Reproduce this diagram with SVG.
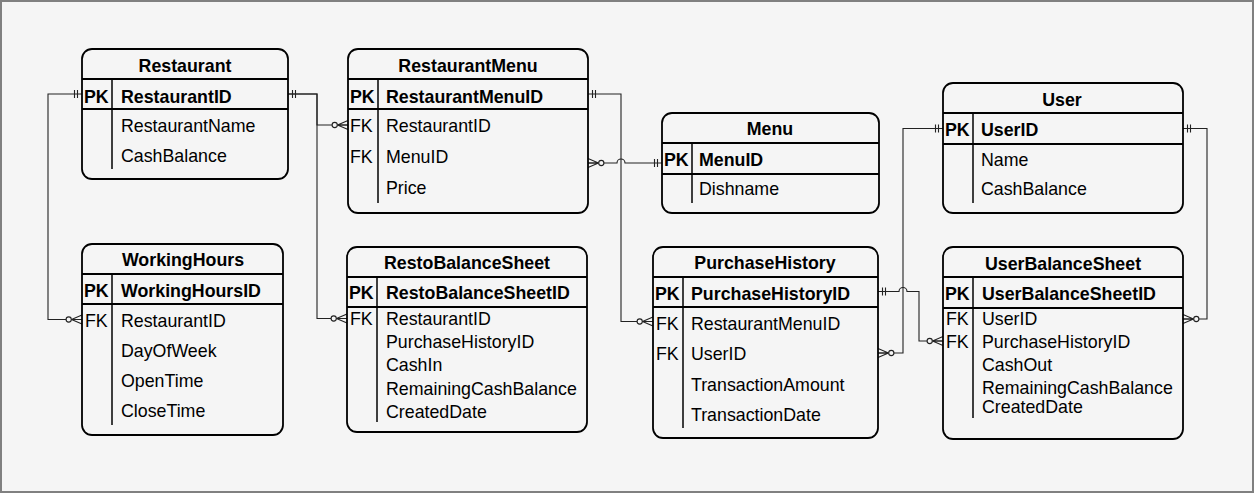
<svg xmlns="http://www.w3.org/2000/svg" width="1255" height="494" viewBox="0 0 1255 494">
<style>
.box{fill:#f5f5f5;stroke:#000;stroke-width:1.8}
.sep{stroke:#000;stroke-width:1.8;fill:none}
.div{stroke:#000;stroke-width:1.5;fill:none}
.t{font-family:"Liberation Sans",Arial,sans-serif;font-size:17.8px;fill:#000}
.b{font-weight:bold}
.c{text-anchor:middle}
.conn{fill:none;stroke:#222;stroke-width:1.1}
.mk{fill:none;stroke:#222;stroke-width:1.1}
</style>
<defs>
<g id="one" class="mk"><path d="M-4.5,-4V4M-7.5,-4V4"/></g>
<g id="zm" class="mk"><path d="M-10.5,0L0,-4.5M-10.5,0L0,4.5M-10.5,0H0"/><circle cx="-13.3" cy="0" r="2.6" fill="#f5f5f5"/></g>
</defs>
<rect x="1" y="1" width="1252" height="491" fill="#f5f5f5" stroke="#808080" stroke-width="2"/>

<g id="connectors">
<path class="conn" d="M82,94H48V319.5H82"/>
<path class="conn" d="M288,94H317V125H348"/>
<path class="conn" d="M288,94H317V318.5H347"/>
<path class="conn" d="M588,94H621V321.5H653"/>
<path class="conn" d="M588,163H617A4,4 0 0 1 625,163H662"/>
<path class="conn" d="M943,128.5H903V353H878"/>
<path class="conn" d="M1183,128.5H1207V319H1183"/>
<path class="conn" d="M878,291.5H899A4,4 0 0 1 907,291.5H919V341H943"/>
<use href="#one" transform="translate(82,94)"/>
<use href="#zm" transform="translate(82,319.5)"/>
<use href="#one" transform="translate(288,94) scale(-1,1)"/>
<use href="#zm" transform="translate(348,125)"/>
<use href="#zm" transform="translate(347,318.5)"/>
<use href="#one" transform="translate(588,94) scale(-1,1)"/>
<use href="#zm" transform="translate(653,321.5)"/>
<use href="#zm" transform="translate(588,163) scale(-1,1)"/>
<use href="#one" transform="translate(662,163)"/>
<use href="#one" transform="translate(943,128.5)"/>
<use href="#zm" transform="translate(878,353) scale(-1,1)"/>
<use href="#one" transform="translate(1183,128.5) scale(-1,1)"/>
<use href="#zm" transform="translate(1183,319) scale(-1,1)"/>
<use href="#one" transform="translate(878,291.5) scale(-1,1)"/>
<use href="#zm" transform="translate(943,341)"/>
</g>

<g id="Restaurant">
<rect class="box" x="82" y="49" width="206" height="130" rx="10"/>
<path class="sep" d="M82,79H288M82,109H288"/>
<path class="div" d="M112,79V169"/>
<text class="t b c" x="185" y="72">Restaurant</text>
<text class="t b" x="84" y="103">PK</text>
<text class="t b" x="121" y="103">RestaurantID</text>
<text class="t" x="121" y="132">RestaurantName</text>
<text class="t" x="121" y="162">CashBalance</text>
</g>

<g id="RestaurantMenu">
<rect class="box" x="348" y="49" width="240" height="164" rx="10"/>
<path class="sep" d="M348,79H588M348,109H588"/>
<path class="div" d="M378,79V203"/>
<text class="t b c" x="468" y="72">RestaurantMenu</text>
<text class="t b" x="350" y="103">PK</text>
<text class="t b" x="386" y="103">RestaurantMenuID</text>
<text class="t" x="350" y="132">FK</text>
<text class="t" x="386" y="132">RestaurantID</text>
<text class="t" x="350" y="163">FK</text>
<text class="t" x="386" y="163">MenuID</text>
<text class="t" x="386" y="194">Price</text>
</g>

<g id="Menu">
<rect class="box" x="662" y="113" width="217" height="100" rx="10"/>
<path class="sep" d="M662,143H879M662,174H879"/>
<path class="div" d="M692,143V203"/>
<text class="t b c" x="770" y="135">Menu</text>
<text class="t b" x="664" y="166">PK</text>
<text class="t b" x="699" y="166">MenuID</text>
<text class="t" x="699" y="195">Dishname</text>
</g>

<g id="User">
<rect class="box" x="943" y="83" width="240" height="130" rx="10"/>
<path class="sep" d="M943,113H1183M943,144H1183"/>
<path class="div" d="M973,113V203"/>
<text class="t b c" x="1062" y="106">User</text>
<text class="t b" x="945" y="136">PK</text>
<text class="t b" x="981" y="136">UserID</text>
<text class="t" x="981" y="166">Name</text>
<text class="t" x="981" y="195">CashBalance</text>
</g>

<g id="WorkingHours">
<rect class="box" x="82" y="244" width="201" height="191" rx="10"/>
<path class="sep" d="M82,274H283M82,304H283"/>
<path class="div" d="M112,274V425"/>
<text class="t b c" x="183" y="266">WorkingHours</text>
<text class="t b" x="84" y="297">PK</text>
<text class="t b" x="121" y="297">WorkingHoursID</text>
<text class="t" x="85" y="327">FK</text>
<text class="t" x="121" y="327">RestaurantID</text>
<text class="t" x="121" y="357">DayOfWeek</text>
<text class="t" x="121" y="387">OpenTime</text>
<text class="t" x="121" y="417">CloseTime</text>
</g>

<g id="RestoBalanceSheet">
<rect class="box" x="347" y="247" width="240" height="185" rx="10"/>
<path class="sep" d="M347,277H587M347,307H587"/>
<path class="div" d="M377,277V422"/>
<text class="t b c" x="467" y="269">RestoBalanceSheet</text>
<text class="t b" x="349" y="299">PK</text>
<text class="t b" x="386" y="299">RestoBalanceSheetID</text>
<text class="t" x="350" y="325">FK</text>
<text class="t" x="386" y="325">RestaurantID</text>
<text class="t" x="386" y="348">PurchaseHistoryID</text>
<text class="t" x="386" y="371">CashIn</text>
<text class="t" x="386" y="395">RemainingCashBalance</text>
<text class="t" x="386" y="418">CreatedDate</text>
</g>

<g id="PurchaseHistory">
<rect class="box" x="653" y="247" width="225" height="191" rx="10"/>
<path class="sep" d="M653,277H878M653,307H878"/>
<path class="div" d="M683,277V428"/>
<text class="t b c" x="765" y="269">PurchaseHistory</text>
<text class="t b" x="655" y="300">PK</text>
<text class="t b" x="691" y="300">PurchaseHistoryID</text>
<text class="t" x="656" y="330">FK</text>
<text class="t" x="691" y="330">RestaurantMenuID</text>
<text class="t" x="656" y="360">FK</text>
<text class="t" x="691" y="360">UserID</text>
<text class="t" x="691" y="391">TransactionAmount</text>
<text class="t" x="691" y="421">TransactionDate</text>
</g>

<g id="UserBalanceSheet">
<rect class="box" x="943" y="247" width="240" height="192" rx="10"/>
<path class="sep" d="M943,277H1183M943,308H1183"/>
<path class="div" d="M973,277V418"/>
<text class="t b c" x="1063" y="270">UserBalanceSheet</text>
<text class="t b" x="945" y="300">PK</text>
<text class="t b" x="982" y="300">UserBalanceSheetID</text>
<text class="t" x="946" y="325">FK</text>
<text class="t" x="982" y="325">UserID</text>
<text class="t" x="946" y="348">FK</text>
<text class="t" x="982" y="348">PurchaseHistoryID</text>
<text class="t" x="982" y="371">CashOut</text>
<text class="t" x="982" y="394">RemainingCashBalance</text>
<text class="t" x="982" y="413">CreatedDate</text>
</g>
</svg>
